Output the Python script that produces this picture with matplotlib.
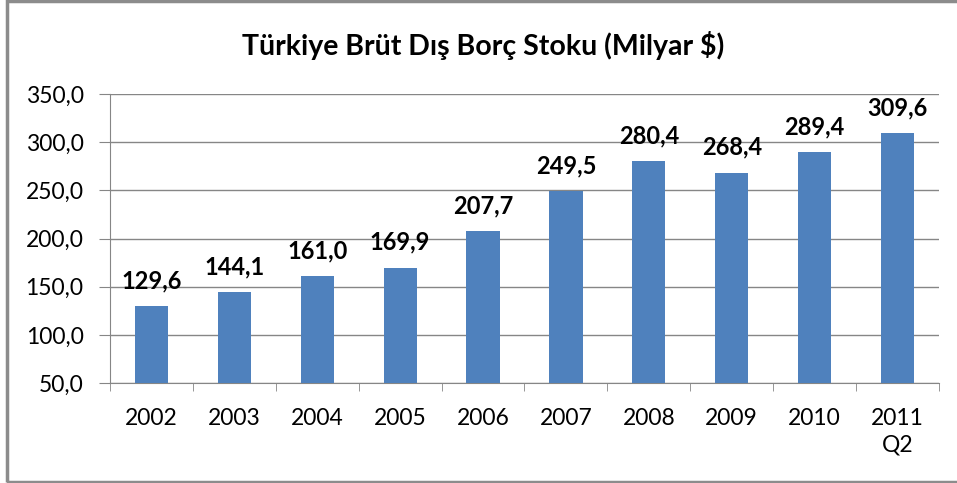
import matplotlib
matplotlib.use('Agg')
import matplotlib.pyplot as plt
from matplotlib.patches import Rectangle
from matplotlib.ticker import FuncFormatter

plt.rcParams['font.family'] = ['Lato', 'DejaVu Sans']

# data
years = ['2002', '2003', '2004', '2005', '2006', '2007', '2008', '2009', '2010', '2011\nQ2']
debt = [129.6, 144.1, 161.0, 169.9, 207.7, 249.5, 280.4, 268.4, 289.4, 309.6]

bar_color = '#4F81BD'
grid_color = '#868686'

fig = plt.figure(figsize=(9.57, 4.83), dpi=100)
ax = fig.add_axes([0.1149, 0.207, 0.8663, 0.5984])

x = range(len(years))
ax.bar(x, debt, width=0.4, color=bar_color, zorder=3)

# data labels above the bars
for i, v in enumerate(debt):
    ax.annotate(f'{v:.1f}'.replace('.', ','), (i, v), xytext=(0, 10),
                textcoords='offset points', ha='center', va='bottom',
                fontsize=17, fontweight='bold', color='black')

ax.set_xlim(-0.5, len(years) - 0.5)
ax.set_ylim(50, 350)
ax.set_yticks(range(50, 351, 50))
ax.yaxis.set_major_formatter(FuncFormatter(lambda v, p: f'{v:.1f}'.replace('.', ',')))
ax.grid(axis='y', color=grid_color, linewidth=1, zorder=0)

# category ticks sit between the bars
ax.set_xticks(x)
ax.set_xticklabels(years, linespacing=1.35)
ax.set_xticks([i - 0.5 for i in range(len(years) + 1)], minor=True)
ax.tick_params(axis='x', which='major', length=0, pad=18, labelsize=16.5)
ax.tick_params(axis='x', which='minor', length=6, color=grid_color)
ax.tick_params(axis='y', length=8, color=grid_color, pad=11, labelsize=16.5)

for s in ['top', 'right']:
    ax.spines[s].set_visible(False)
for s in ['left', 'bottom']:
    ax.spines[s].set_color(grid_color)

fig.text(0.505, 0.905, 'Türkiye Brüt Dış Borç Stoku (Milyar $)', ha='center', va='center',
         fontsize=20.5, fontweight='bold')

# outer chart frame
fig.patches.append(Rectangle((0.007, 0.003), 1.0, 0.994, transform=fig.transFigure,
                             fill=False, edgecolor='#8C8C8C', linewidth=2.5))

fig.savefig('out.png', dpi=100)
